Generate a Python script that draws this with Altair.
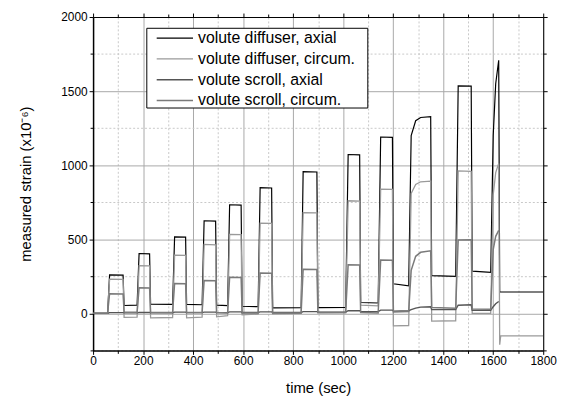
import altair as alt
import pandas as pd

# ---- data ----
time_s = [0, 58, 66, 120, 124, 176, 184, 226, 230, 318, 326, 370, 374, 436, 444, 490, 494,
          538, 546, 592, 596, 660, 668, 714, 718, 832, 840, 895, 899, 1010, 1020, 1066, 1070,
          1140, 1150, 1197, 1201, 1262, 1272, 1290, 1310, 1350, 1354, 1450, 1460, 1512, 1516,
          1590, 1600, 1610, 1622, 1626, 1630, 1800]

diffuser_axial = [0, 0, 260, 258, 53, 55, 404, 402, 62, 60, 516, 514, 60, 58, 625, 622, 55,
                  52, 733, 730, 48, 45, 849, 846, 37, 38, 956, 954, 39, 40, 1072, 1070, 73,
                  70, 1190, 1188, 200, 186, 1200, 1300, 1322, 1328, 255, 250, 1535, 1533, 285,
                  276, 1200, 1550, 1708, 144, 144, 144]

diffuser_circum = [0, 0, 231, 229, -27, -25, 322, 320, -30, -28, 393, 391, -30, -25, 466, 462, -23,
                   -15, 533, 531, -10, -5, 609, 607, -3, 0, 680, 678, 4, 5, 760, 758, 55,
                   50, 838, 836, -85, -82, 810, 870, 888, 892, -52, -50, 962, 958, 0,
                   0, 800, 950, 1012, -212, -152, -152]

scroll_axial = [0, 0, 5, 5, 3, 3, 6, 6, 4, 4, 8, 8, 5, 5, 8, 8, 5,
                5, 10, 10, 6, 6, 10, 10, 6, 6, 12, 12, 8, 8, 18, 18, 12,
                12, 22, 22, 15, 18, 25, 35, 42, 45, 25, 25, 55, 58, 20,
                20, 45, 65, 80, None, None, None]

scroll_circum = [0, 0, 133, 131, 10, 8, 173, 171, 8, 5, 202, 200, 5, 5, 222, 220, 5,
                 3, 244, 242, 3, 2, 273, 271, 2, 2, 298, 296, 6, 6, 328, 326, 5,
                 3, 360, 358, 10, 12, 290, 385, 412, 422, 40, 35, 495, 497, 30,
                 28, 430, 520, 560, None, None, None]

series_names = ["volute diffuser, axial", "volute diffuser, circum.",
                "volute scroll, axial", "volute scroll, circum."]
series_values = [diffuser_axial, diffuser_circum, scroll_axial, scroll_circum]

x_major = [0, 200, 400, 600, 800, 1000, 1200, 1400, 1600, 1800]
x_minor = [100, 300, 500, 700, 900, 1100, 1300, 1500, 1700]
y_major = [0, 500, 1000, 1500, 2000]
y_minor = [-250, 250, 750, 1250, 1750]

# ---- styles ----
line_colors = ["#000000", "#9a9a9a", "#555555", "#7a7a7a"]
line_widths = [1.2, 1.5, 1.1, 1.0]
FONT = "Liberation Sans"

rows = []
for k, (name, vals) in enumerate(zip(series_names, series_values)):
    for t, v in zip(time_s, vals):
        if v is not None:
            rows.append({"t": t, "v": v, "series": name, "k": k})
df = pd.DataFrame(rows)

xs = alt.Scale(domain=[0, 1800], nice=False, zero=False)
ys = alt.Scale(domain=[-250, 2000], nice=False, zero=False)

lines = alt.Chart(df).mark_line(clip=True).encode(
    x=alt.X("t:Q", scale=xs, axis=alt.Axis(
        orient="bottom", values=x_major, format="d", title="time (sec)", grid=True,
        gridColor="#a8a8a8", gridWidth=1, tickSize=4, tickWidth=1, tickColor="black",
        domainColor="black", domainWidth=1.5, labelFontSize=12, labelPadding=1,
        labelColor="black", labelFont=FONT, titleFont=FONT, titleFontSize=15,
        titleFontWeight="normal", titleColor="black", titlePadding=15, labelFlush=False)),
    y=alt.Y("v:Q", scale=ys, axis=alt.Axis(
        orient="left", values=y_major, format="d", title="measured strain (x10⁻⁶)", grid=True,
        gridColor="#a8a8a8", gridWidth=1, tickSize=4, tickWidth=1, tickColor="black",
        domainColor="black", domainWidth=1.5, labelFontSize=12, labelPadding=2,
        labelColor="black", labelFont=FONT, titleFont=FONT, titleFontSize=15,
        titleFontWeight="normal", titleColor="black", titlePadding=28, labelFlush=False)),
    color=alt.Color("series:N", scale=alt.Scale(domain=series_names, range=line_colors),
                    legend=alt.Legend(
                        orient="none", legendX=64.3, legendY=13.4, title=None,
                        symbolType="M-2.62,0H2.62", symbolSize=196, symbolOffset=10.35,
                        labelOffset=15.4, labelFontSize=16, labelFont=FONT,
                        labelColor="black", rowPadding=5, padding=0,
                        symbolStrokeWidth=1.4, labelLimit=400)),
    strokeWidth=alt.StrokeWidth("series:N", scale=alt.Scale(domain=series_names, range=line_widths),
                                legend=None),
    detail="series:N",
    order="t:Q",
)

one = pd.DataFrame({"t": [0], "v": [0]})

minor = alt.Chart(one).mark_point(opacity=0).encode(
    x=alt.X("t:Q", scale=xs, axis=alt.Axis(
        orient="bottom", values=x_minor, labels=False, title=None, grid=True,
        gridColor="#c8c8c8", gridDash=[2, 2], tickSize=3, tickColor="black",
        domain=False)),
    y=alt.Y("v:Q", scale=ys, axis=alt.Axis(
        orient="left", values=y_minor, labels=False, title=None, grid=True,
        gridColor="#c8c8c8", gridDash=[2, 2], tickSize=3, tickColor="black",
        domain=False)),
)

mirror_major = alt.Chart(one).mark_point(opacity=0).encode(
    x=alt.X("t:Q", scale=xs, axis=alt.Axis(
        orient="top", values=x_major, labels=False, title=None, grid=False,
        tickSize=4, tickColor="black", domainColor="black", domainWidth=1)),
    y=alt.Y("v:Q", scale=ys, axis=alt.Axis(
        orient="right", values=y_major, labels=False, title=None, grid=False,
        tickSize=4, tickColor="black", domainColor="black", domainWidth=1)),
)

mirror_minor = alt.Chart(one).mark_point(opacity=0).encode(
    x=alt.X("t:Q", scale=xs, axis=alt.Axis(
        orient="top", values=x_minor, labels=False, title=None, grid=False,
        tickSize=3, tickColor="black", domain=False)),
    y=alt.Y("v:Q", scale=ys, axis=alt.Axis(
        orient="right", values=y_minor, labels=False, title=None, grid=False,
        tickSize=3, tickColor="black", domain=False)),
)

legend_box = alt.Chart(one).mark_rect(fill="white", stroke="black", strokeWidth=1).encode(
    x=alt.value(54.3), x2=alt.value(277.7), y=alt.value(11.4), y2=alt.value(92),
)

chart = alt.layer(minor, mirror_major, mirror_minor, lines, legend_box).resolve_axis(
    x="independent", y="independent"
).properties(
    width=455, height=337,
    autosize=alt.AutoSizeParams(type="none"),
    padding={"left": 86, "top": 7, "right": 20, "bottom": 45},
    background="white",
).configure_view(stroke=None)

chart.save("out.html", embed_options={"renderer": "svg", "actions": False})
